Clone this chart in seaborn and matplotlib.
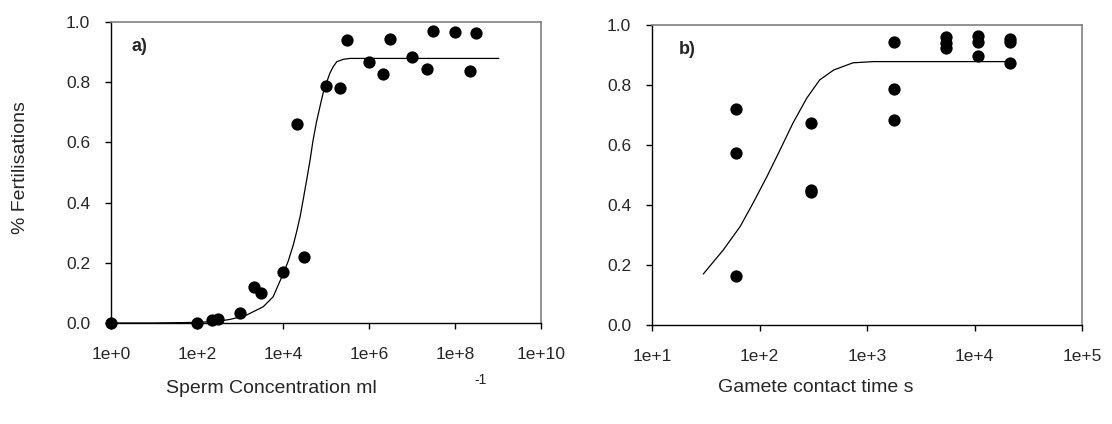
import matplotlib
matplotlib.use("Agg")
import matplotlib.pyplot as plt
import seaborn as sns
import pandas as pd
import numpy as np

# ---- Data: panel a) sperm concentration ----
conc = [1, 100, 220, 316, 1000, 2150, 3160, 10000, 21500, 31600,
        100000, 215000, 316000, 1e6, 2.15e6, 3.16e6, 1e7, 2.2e7, 3.16e7,
        1e8, 2.2e8, 3.16e8]
fert_a = [0.0, 0.0, 0.01, 0.012, 0.033, 0.118, 0.10, 0.168, 0.661, 0.22,
          0.787, 0.782, 0.940, 0.867, 0.828, 0.945, 0.884, 0.845, 0.971,
          0.966, 0.836, 0.962]
curve_a_x = [1, 10, 100, 316, 589, 1000, 1450, 3470, 5890, 10200, 13200,
             17400, 20900, 25100, 29500, 35500, 42700, 50100, 60300, 72400,
             87100, 105000, 123000, 148000, 178000, 251000, 363000,
             1e6, 1e7, 1e8, 1.05e9]
curve_a_y = [0.0, 0.0, 0.002, 0.006, 0.012, 0.020, 0.027, 0.054, 0.087,
             0.165, 0.205, 0.260, 0.305, 0.355, 0.410, 0.475, 0.542, 0.608,
             0.669, 0.719, 0.768, 0.802, 0.830, 0.852, 0.868, 0.876, 0.879,
             0.879, 0.879, 0.879, 0.879]

# ---- Data: panel b) gamete contact time ----
time_s = [60, 60, 60, 300, 300, 300, 1800, 1800, 1800,
          5400, 5400, 5400, 10800, 10800, 10800, 21600, 21600, 21600]
fert_b = [0.72, 0.574, 0.163, 0.673, 0.45, 0.444, 0.944, 0.787, 0.683,
          0.959, 0.94, 0.922, 0.964, 0.944, 0.897, 0.952, 0.943, 0.872]
curve_b_x = [30, 46, 66, 87, 117, 155, 204, 275, 363, 490, 741, 1150,
             3160, 10000, 21900]
curve_b_y = [0.170, 0.25, 0.328, 0.406, 0.494, 0.583, 0.672, 0.756, 0.817,
             0.85, 0.874, 0.878, 0.878, 0.878, 0.878]

xticks_a = [1, 1e2, 1e4, 1e6, 1e8, 1e10]
xticklabels_a = ["1e+0", "1e+2", "1e+4", "1e+6", "1e+8", "1e+10"]
xticks_b = [10, 1e2, 1e3, 1e4, 1e5]
xticklabels_b = ["1e+1", "1e+2", "1e+3", "1e+4", "1e+5"]
yticks = [0.0, 0.2, 0.4, 0.6, 0.8, 1.0]
yticklabels = ["0.0", "0.2", "0.4", "0.6", "0.8", "1.0"]

sns.set_style("white")
plt.rcParams['font.family'] = ['Liberation Sans', 'DejaVu Sans']

fig = plt.figure(figsize=(11.12, 4.24), dpi=100)
W, H = 1112, 424
axA = fig.add_axes([111 / W, (H - 323) / H, 430 / W, 301 / H])
axB = fig.add_axes([652 / W, (H - 325) / H, 430 / W, 300 / H])

dfa = pd.DataFrame({"x": conc, "y": fert_a})
dfa_c = pd.DataFrame({"x": curve_a_x, "y": curve_a_y})
dfb = pd.DataFrame({"x": time_s, "y": fert_b})
dfb_c = pd.DataFrame({"x": curve_b_x, "y": curve_b_y})

for ax, dpts, dcur, xt, xtl, xlim in [
        (axA, dfa, dfa_c, xticks_a, xticklabels_a, (1, 1e10)),
        (axB, dfb, dfb_c, xticks_b, xticklabels_b, (10, 1e5))]:
    ax.set_xscale("log")
    sns.lineplot(data=dcur, x="x", y="y", ax=ax, color="black", lw=0.9,
                 sort=False, estimator=None, zorder=2)
    sns.scatterplot(data=dpts, x="x", y="y", ax=ax, color="black", s=78,
                    edgecolor="black", linewidth=0, zorder=3, clip_on=False)
    ax.set_xlim(*xlim)
    ax.set_ylim(0, 1.0)
    ax.set_xticks(xt)
    ax.set_xticklabels(xtl)
    ax.xaxis.set_minor_locator(matplotlib.ticker.NullLocator())
    ax.set_yticks(yticks)
    ax.set_yticklabels(yticklabels)
    ax.set_xlabel("")
    ax.set_ylabel("")
    for side in ["left", "bottom"]:
        ax.spines[side].set_color("black")
        ax.spines[side].set_linewidth(1.0)
    for side in ["top", "right"]:
        ax.spines[side].set_color("#808080")
        ax.spines[side].set_linewidth(1.2)
        ax.spines[side].set_visible(True)
    ax.tick_params(axis="both", which="major", direction="out", length=4,
                   width=1, color="black", labelsize=12.5, bottom=True, left=True)
    ax.tick_params(axis="x", pad=13)
    ax.tick_params(axis="y", pad=11)

axA.text(0.047, 0.92, "a)", transform=axA.transAxes, fontsize=13,
         fontweight="bold", ha="left", va="center")
axB.text(0.063, 0.917, "b)", transform=axB.transAxes, fontsize=13,
         fontweight="bold", ha="left", va="center")

axA.text(0.128, -0.216, "Sperm Concentration ml", transform=axA.transAxes,
         fontsize=14, ha="left", va="center")
axA.text(0.845, -0.19, "-1", transform=axA.transAxes,
         fontsize=10, ha="left", va="center")
axB.text(0.153, -0.21, "Gamete contact time s", transform=axB.transAxes,
         fontsize=14, ha="left", va="center")

fig.text(21 / W, 1 - 168 / H, "% Fertilisations", rotation=90,
         fontsize=14, ha="center", va="center")

fig.savefig("out.png", dpi=100)
